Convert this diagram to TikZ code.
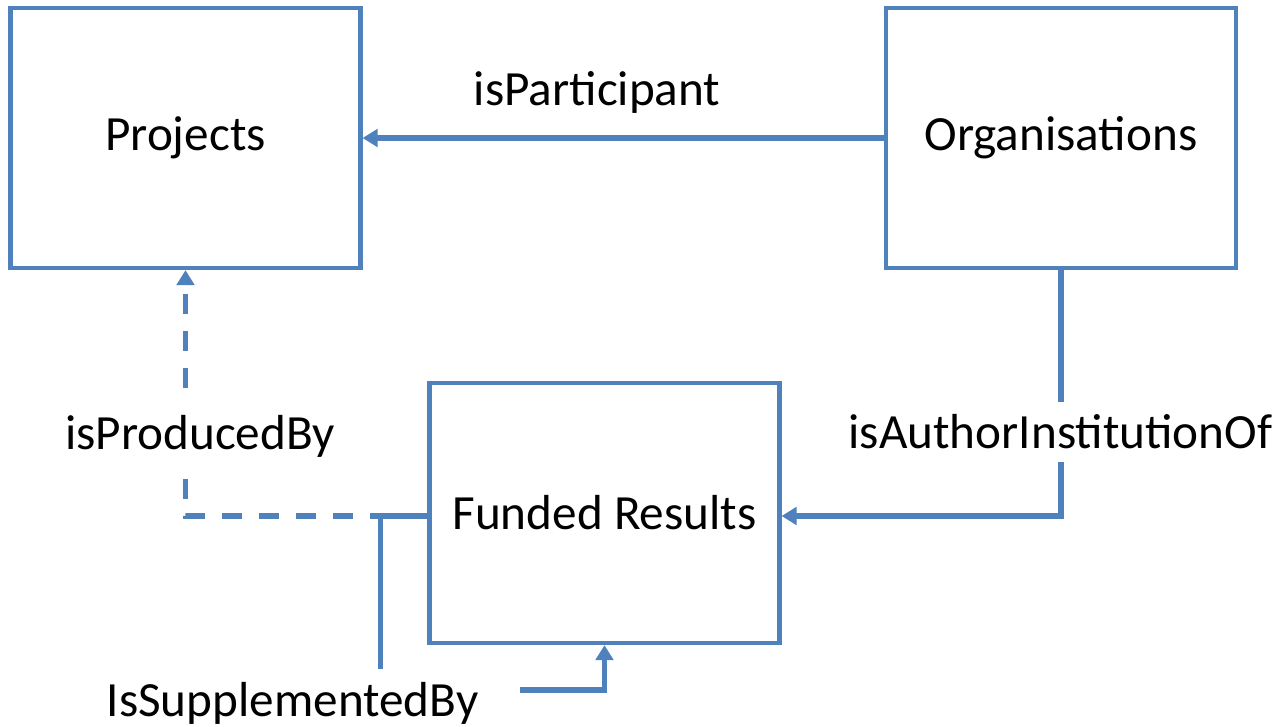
\documentclass[tikz,border=0pt]{standalone}
\usepackage{fontspec}
\setmainfont{Carlito}
\usetikzlibrary{arrows.meta, positioning, calc}
\definecolor{linkblue}{HTML}{4F81BD}

\begin{document}
\begin{tikzpicture}[-{Triangle[length=4.3pt,width=5pt]},auto,font=\fontsize{14}{17}\selectfont]
	\tikzset{entity/.style={draw=linkblue, line width=1.2pt, minimum width=3.5cm, minimum height=2.6cm, -},
		link/.style={color=linkblue, line width=1.6pt},
		lbl/.style={fill=white, text=black, inner xsep=2pt, inner ysep=0.13cm}}
	\useasboundingbox (0,0) rectangle (12.87,7.26);
	\node[entity] (proj) at (1.855,5.88) {Projects};
	\node[entity] (org) at (10.61,5.88) {Organisations};
	\node[entity] (res) at (6.045,2.13) {Funded Results};
	\path[link]
		(org) edge node[pos=0.55, above=0.1cm, text=black, -] (part) {isParticipant} (proj);
	\draw[link] (org.south) |- ([yshift=-0.3mm]res.east);
	\draw[link] ([yshift=-0.3mm]res.west) -- ++(-0.47,0) -- ++(0,-1.74) -| (res.south);
	\draw[link, dash pattern=on 2mm off 1.7mm] ([yshift=-0.3mm]res.west) -| (proj.south);
	\node[lbl] (auth) at (10.605,2.94) {isAuthorInstitutionOf};
	\node[lbl] (prod) at (2.00,2.90) {isProducedBy};
	\node[lbl, inner xsep=0.42cm] (suppl) at (2.925,0.23) {IsSupplementedBy};
\end{tikzpicture}
\end{document}
